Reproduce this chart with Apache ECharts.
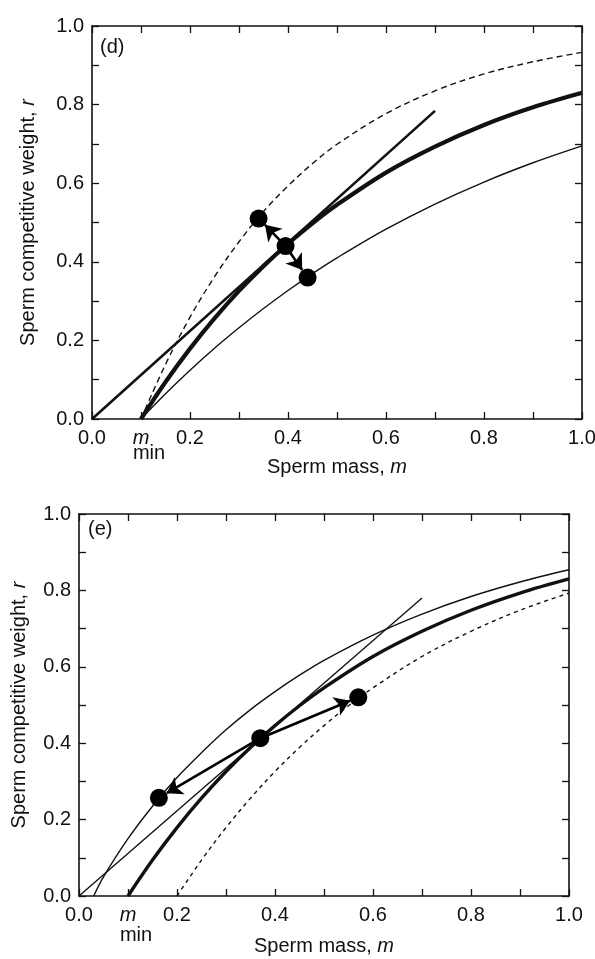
<!DOCTYPE html>
<html>
<head>
<meta charset="utf-8">
<script src="https://cdn.jsdelivr.net/npm/echarts@6/dist/echarts.min.js"></script>
<style>
html,body{margin:0;padding:0;background:#fff;}
#chart{width:595px;height:959px;}
</style>
</head>
<body>
<div id="chart"></div>
<script>
// ---------- data ----------
// tick labels
const tickLabels = ['0.0','0.2','0.4','0.6','0.8','1.0'];

// Panel (d)
const dM      = [0.1, 0.15, 0.2, 0.25, 0.3, 0.35, 0.4, 0.45, 0.5, 0.6, 0.7, 0.8, 0.9, 1.0];
const dThick  = [0, 0.094, 0.179, 0.256, 0.326, 0.389, 0.446, 0.498, 0.545, 0.627, 0.693, 0.748, 0.793, 0.83];
const dDashed = [0, 0.139, 0.259, 0.362, 0.451, 0.528, 0.593, 0.650, 0.699, 0.777, 0.835, 0.878, 0.909, 0.933];
const dThin   = [0, 0.064, 0.124, 0.180, 0.232, 0.281, 0.327, 0.370, 0.410, 0.483, 0.547, 0.603, 0.652, 0.695];
const dTangentM = [0, 0.7];
const dTangentR = [0, 0.784];
const dPointsM = [0.34, 0.395, 0.44];
const dPointsR = [0.51, 0.44, 0.36];
const dArrowFromM = [0.395, 0.395];
const dArrowFromR = [0.44, 0.44];
const dArrowToM   = [0.353, 0.429];
const dArrowToR   = [0.494, 0.379];

// Panel (e)
const eThinM   = [0.03, 0.05, 0.1, 0.15, 0.2, 0.25, 0.3, 0.35, 0.4, 0.45, 0.5, 0.6, 0.7, 0.8, 0.9, 1.0];
const eThin    = [0, 0.05, 0.15, 0.235, 0.31, 0.375, 0.435, 0.488, 0.535, 0.578, 0.617, 0.683, 0.738, 0.784, 0.822, 0.854];
const eThickM  = [0.1, 0.15, 0.2, 0.25, 0.3, 0.35, 0.4, 0.45, 0.5, 0.6, 0.7, 0.8, 0.9, 1.0];
const eThick   = [0, 0.094, 0.179, 0.256, 0.326, 0.389, 0.446, 0.498, 0.545, 0.627, 0.693, 0.748, 0.793, 0.83];
const eDashedM = [0.2, 0.25, 0.3, 0.35, 0.4, 0.45, 0.5, 0.55, 0.6, 0.7, 0.8, 0.9, 1.0];
const eDashed  = [0, 0.094, 0.179, 0.256, 0.326, 0.389, 0.446, 0.498, 0.545, 0.627, 0.693, 0.748, 0.793];
const eTangentM = [0, 0.7];
const eTangentR = [0, 0.78];
const ePointsM = [0.163, 0.37, 0.57];
const ePointsR = [0.257, 0.413, 0.52];
const eArrowFromM = [0.37, 0.37];
const eArrowFromR = [0.413, 0.413];
const eArrowToM   = [0.179, 0.553];
const eArrowToR   = [0.269, 0.511];

// ---------- helpers ----------
function pairs(xs, ys){ return xs.map((x,i)=>[x, ys[i]]); }
function arrows(fm, fr, tm, tr){ return fm.map((m,i)=>({coords:[[m, fr[i]], [tm[i], tr[i]]]})); }
const FONT = 'Liberation Sans, Arial, sans-serif';
const INK = '#111';
const FS = 20;

function tenth(v){ return Math.round(v*10); }
function yLabel(v){ const t = tenth(v); return t % 2 === 0 ? tickLabels[t/2] : ''; }
function xLabel(v){
  const t = tenth(v);
  if (t === 1) return '{m|m}\n{s|min}';
  return t % 2 === 0 ? tickLabels[t/2] : '';
}

function baseAxis(gridIndex){
  return {
    type:'value', gridIndex, min:0, max:1, interval:0.1,
    axisLine:{show:true, onZero:false, lineStyle:{color:INK, width:1.6}},
    axisTick:{show:true, inside:true, length:7, lineStyle:{color:INK, width:1.3}},
    splitLine:{show:false}
  };
}
function xBottom(gridIndex, minGap, nameGap){
  return Object.assign(baseAxis(gridIndex), {
    position:'bottom',
    name:'{t|Sperm mass, }{i|m}', nameLocation:'middle', nameGap:nameGap, nameMoveOverlap:false,
    nameTextStyle:{rich:{t:{fontFamily:FONT, fontSize:FS, color:INK}, i:{fontFamily:FONT, fontSize:FS, fontStyle:'italic', color:INK}}},
    axisLabel:{formatter:xLabel, margin:9, color:INK, fontFamily:FONT, fontSize:FS,
      rich:{m:{fontFamily:FONT, fontSize:FS, fontStyle:'italic', color:INK, lineHeight:20},
            s:{fontFamily:FONT, fontSize:FS, color:INK, lineHeight:minGap, padding:[0,0,0,16]}}}
  });
}
function xTop(gridIndex){
  return Object.assign(baseAxis(gridIndex), {position:'top', axisLabel:{show:false}});
}
function yLeft(gridIndex, gap){
  return Object.assign(baseAxis(gridIndex), {
    position:'left',
    name:'{t|Sperm competitive weight, }{i|r}', nameLocation:'middle', nameGap:gap, nameRotate:90, nameMoveOverlap:false,
    nameTextStyle:{rich:{t:{fontFamily:FONT, fontSize:FS, color:INK}, i:{fontFamily:FONT, fontSize:FS, fontStyle:'italic', color:INK}}},
    axisLabel:{formatter:yLabel, margin:8, color:INK, fontFamily:FONT, fontSize:FS}
  });
}
function yRight(gridIndex){
  return Object.assign(baseAxis(gridIndex), {position:'right', axisLabel:{show:false}});
}

function curve(data, xi, width, type){
  return {type:'line', xAxisIndex:xi, yAxisIndex:xi, data, smooth:0.35, showSymbol:false, symbol:'none',
    lineStyle:{color:INK, width, type:type||'solid'}, z:2};
}
function dots(data, xi){
  return {type:'scatter', xAxisIndex:xi, yAxisIndex:xi, data, symbol:'circle', symbolSize:18,
    itemStyle:{color:'#000', opacity:1}, z:5};
}
function arrowSeries(data, xi){
  return {type:'lines', coordinateSystem:'cartesian2d', xAxisIndex:xi, yAxisIndex:xi, data,
    symbol:['none','arrow'], symbolSize:15, lineStyle:{color:'#000', width:2.6, curveness:0, opacity:1}, z:4};
}

const option = {
  animation:false,
  backgroundColor:'#fff',
  grid:[
    {left:92, top:26, width:490, height:393, outerBoundsMode:'none', containLabel:false},
    {left:79, top:514, width:490, height:382, outerBoundsMode:'none', containLabel:false}
  ],
  xAxis:[xBottom(0, 10, 38), xTop(0), xBottom(1, 20, 40), xTop(1)],
  yAxis:[yLeft(0, 54), yRight(0), yLeft(1, 50), yRight(1)],
  graphic:[
    {type:'text', left:100, top:37, style:{text:'(d)', font:FS + 'px ' + FONT, fill:INK}},
    {type:'text', left:88, top:519, style:{text:'(e)', font:FS + 'px ' + FONT, fill:INK}}
  ],
  series:[
    curve(pairs(dM, dDashed), 0, 1.4, [6,4]),
    curve(pairs(dM, dThin), 0, 1.4),
    curve(pairs(dM, dThick), 0, 4.2),
    {type:'line', xAxisIndex:0, yAxisIndex:0, data:pairs(dTangentM, dTangentR), showSymbol:false, symbol:'none', lineStyle:{color:INK, width:2.6}, z:2},
    arrowSeries(arrows(dArrowFromM, dArrowFromR, dArrowToM, dArrowToR), 0),
    dots(pairs(dPointsM, dPointsR), 0),

    curve(pairs(eDashedM, eDashed), 2, 1.4, [4,4]),
    curve(pairs(eThinM, eThin), 2, 1.4),
    curve(pairs(eThickM, eThick), 2, 3.4),
    {type:'line', xAxisIndex:2, yAxisIndex:2, data:pairs(eTangentM, eTangentR), showSymbol:false, symbol:'none', lineStyle:{color:INK, width:1.4}, z:2},
    arrowSeries(arrows(eArrowFromM, eArrowFromR, eArrowToM, eArrowToR), 2),
    dots(pairs(ePointsM, ePointsR), 2)
  ]
};

const chart = echarts.init(document.getElementById('chart'), null, {renderer:'canvas'});
chart.setOption(option);
</script>
</body>
</html>
